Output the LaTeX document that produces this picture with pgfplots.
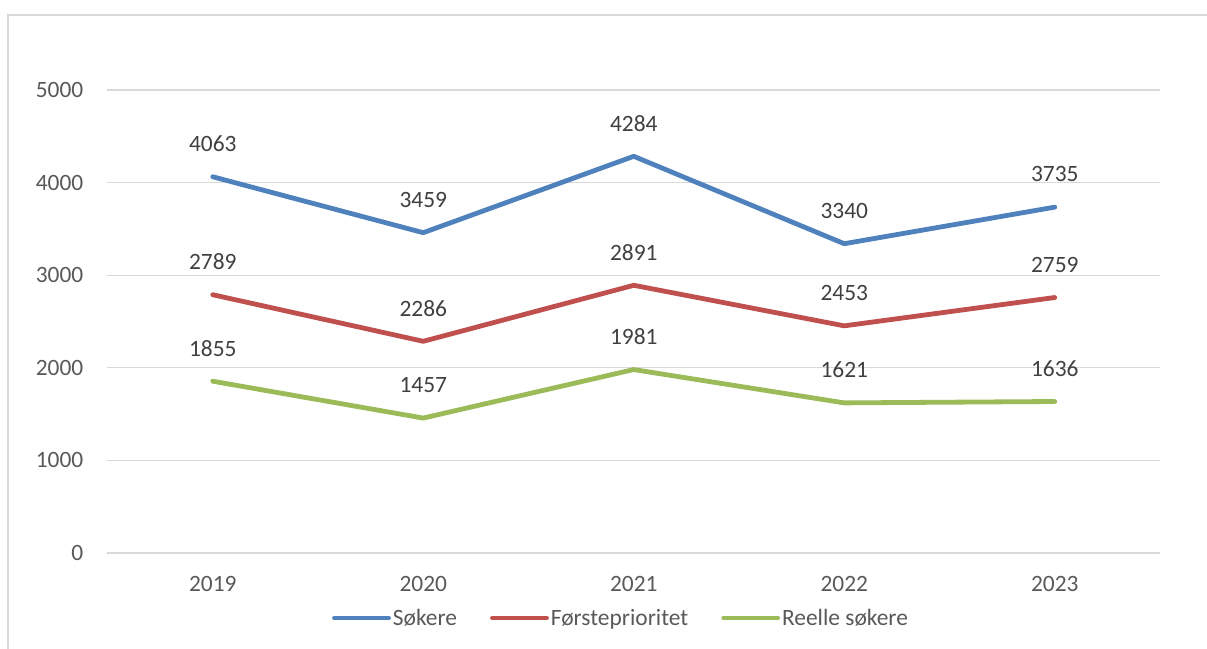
\documentclass[border=0pt]{standalone}
\usepackage{fontspec}
\setmainfont{Carlito}
\usepackage{pgfplots}
\pgfplotsset{compat=1.18}
\definecolor{sblue}{HTML}{4F81BD}
\definecolor{sred}{HTML}{C0504D}
\definecolor{sgreen}{HTML}{9BBB59}
\definecolor{gridgray}{HTML}{D9D9D9}
\definecolor{ticktext}{HTML}{595959}
\definecolor{labeltext}{HTML}{404040}
\begin{document}
\begin{tikzpicture}[x=1bp,y=1bp]
\useasboundingbox (-107.5,-96) rectangle (1099.5,553);
\draw[line width=1.5bp, color=gridgray] (1250,538) -- (-99.5,538) -- (-99.5,-250);
\begin{axis}[
  at={(0,0)}, anchor=south west,
  width=1052.5bp, height=463bp, scale only axis,
  xmin=-0.5, xmax=4.5, ymin=0, ymax=5000,
  xtick={0,1,2,3,4}, xticklabels={2019,2020,2021,2022,2023},
  ytick={0,1000,2000,3000,4000,5000},
  ymajorgrids, grid style={gridgray, line width=1.3bp},
  axis line style={draw=none},
  major tick length=0pt,
  tick label style={font=\fontsize{23.5}{27}\selectfont, text=ticktext},
  yticklabel style={anchor=east, inner sep=0pt, xshift=-24bp},
  xticklabel style={anchor=north, inner sep=0pt, yshift=-23bp},
  /pgf/number format/.cd, 1000 sep={}, assume math mode=true, /pgfplots/.cd,
  clip=false,
  nodes near coords,
  nodes near coords style={font=\fontsize{23.5}{27}\selectfont, text=labeltext, anchor=center, yshift=33bp},
  every axis plot/.append style={line width=4.8bp, line cap=round, line join=round, mark=none},
  legend columns=3,
  legend style={at={(rel axis cs:0.4879,-0.1404)}, anchor=center, draw=none, fill=none,
    font=\fontsize{23.5}{27}\selectfont, text=ticktext,
    nodes={inner xsep=2bp, inner ysep=0pt},
    /tikz/every even column/.append style={column sep=31bp}},
  legend image code/.code={\draw[#1, line cap=round] (0bp,0bp) -- (54bp,0bp);},
]
\addplot[sblue] coordinates {(0,4063) (1,3459) (2,4284) (3,3340) (4,3735)};
\addlegendentry{Søkere}
\addplot[sred] coordinates {(0,2789) (1,2286) (2,2891) (3,2453) (4,2759)};
\addlegendentry{Førsteprioritet}
\addplot[sgreen] coordinates {(0,1855) (1,1457) (2,1981) (3,1621) (4,1636)};
\addlegendentry{Reelle søkere}
\end{axis}
\end{tikzpicture}
\end{document}
